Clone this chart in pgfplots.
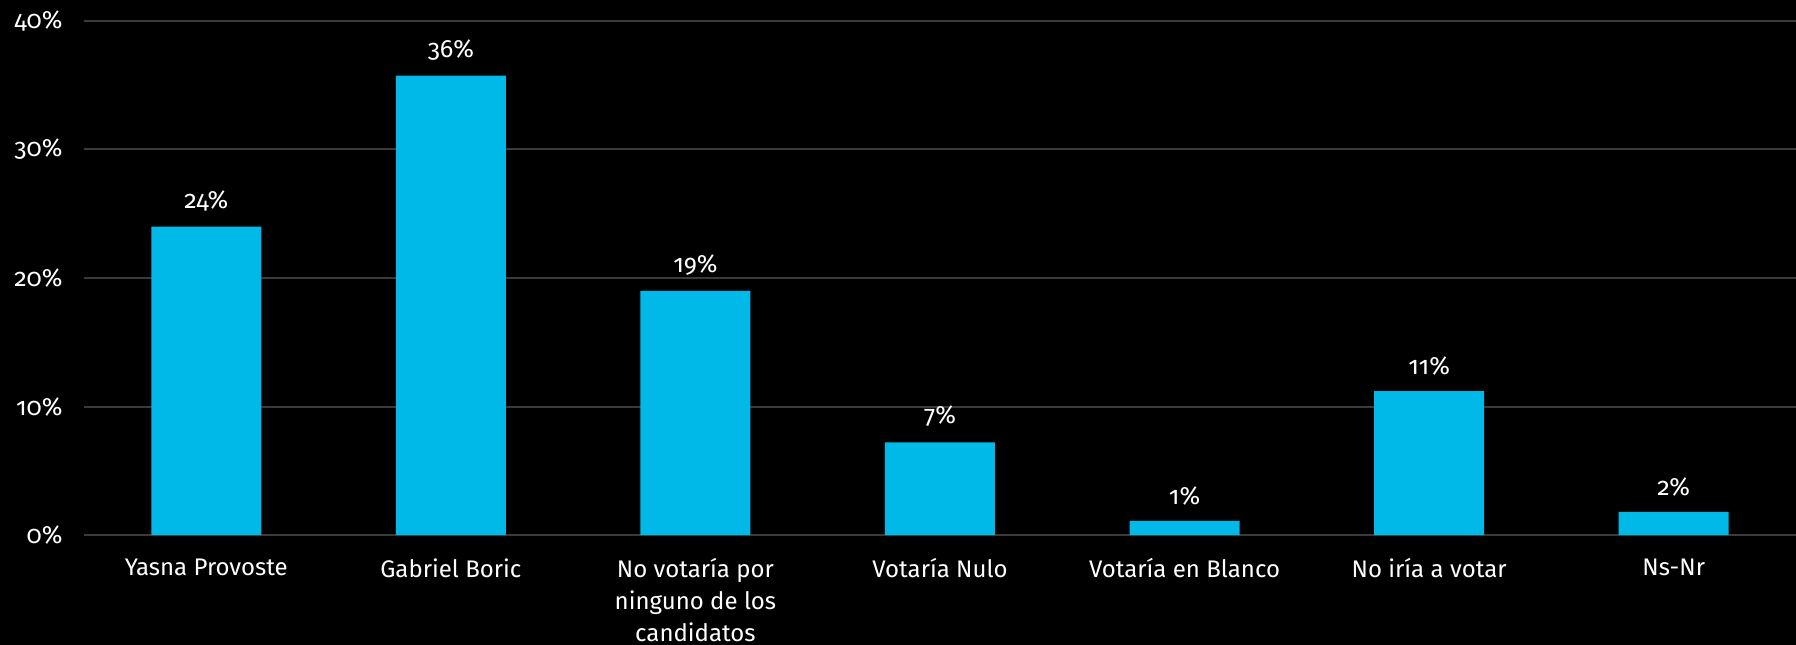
\documentclass[border=0pt]{standalone}
\usepackage{fontspec}
\setmainfont{Fira Sans}[Numbers=OldStyle]
\usepackage{pgfplots}
\pgfplotsset{compat=1.18}
\definecolor{barc}{HTML}{00B9E8}
\definecolor{gridc}{HTML}{3A3A3A}
\begin{document}
\begin{tikzpicture}
\fill[black] (0pt,0pt) rectangle (1796pt,645pt);
\begin{axis}[
  at={(84pt,110pt)}, anchor=south west,
  scale only axis, width=1712pt, height=514pt,
  xmin=-0.5, xmax=6.5, ymin=0, ymax=40,
  axis line style={draw=none},
  ytick={0,10,20,30,40},
  yticklabels={0\%,10\%,20\%,30\%,40\%},
  ymajorgrids, grid style={gridc, line width=2pt},
  major tick length=0pt,
  xtick={0,...,6},
  xticklabels={Yasna Provoste, Gabriel Boric, {No votaría por\\ninguno de los\\candidatos}, Votaría Nulo, Votaría en Blanco, No iría a votar, Ns-Nr},
  x tick label style={align=center, font=\fontsize{24}{32}\selectfont, text=white, yshift=-20pt},
  y tick label style={font=\fontsize{25}{28}\selectfont, text=white, xshift=-18pt},
  ybar, bar width=110pt, bar shift=0pt,
  nodes near coords,
  point meta=explicit symbolic,
  every node near coord/.append style={font=\fontsize{25}{28}\selectfont, text=white, yshift=12pt},
]
\addplot[fill=barc, draw=none] table[meta=label] {
x y label
0 24.0 24\%
1 35.75 36\%
2 19.0 19\%
3 7.2 7\%
4 1.1 1\%
5 11.2 11\%
6 1.8 2\%
};
\end{axis}
\pgfresetboundingbox
\path (0pt,0pt) rectangle (1796pt,645pt);
\end{tikzpicture}
\end{document}
